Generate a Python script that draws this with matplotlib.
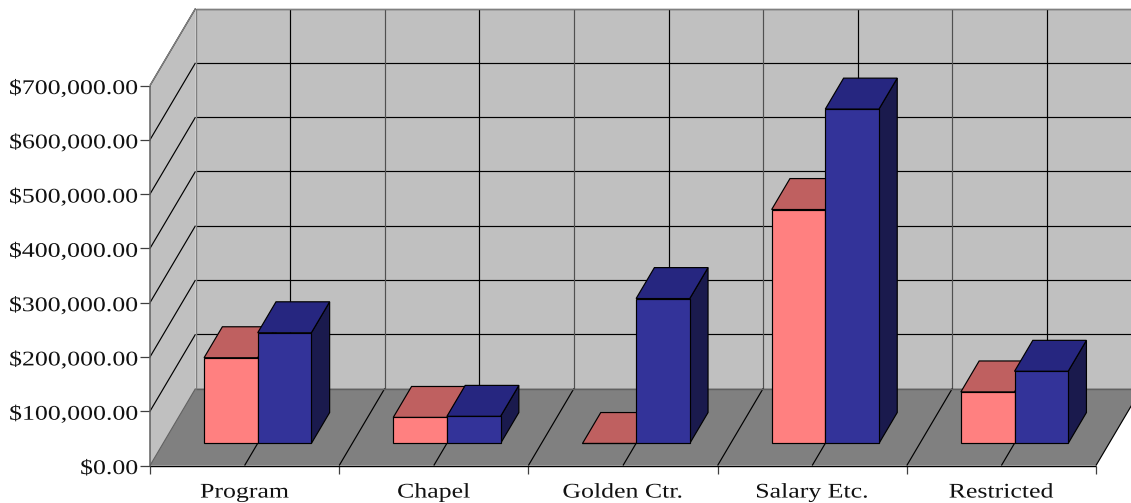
import matplotlib
matplotlib.use("Agg")
import matplotlib.pyplot as plt
from matplotlib.patches import Polygon
from matplotlib.patheffects import AbstractPathEffect
from matplotlib.transforms import Affine2D

categories = ["Program", "Chapel", "Golden Ctr.", "Salary Etc.", "Restricted"]
series_a = [158000, 48000, 0, 431000, 95000]
series_b = [204000, 50000, 267000, 616000, 133000]
value_ticks = [0, 100000, 200000, 300000, 400000, 500000, 600000, 700000]
value_labels = ["$0.00", "$100,000.00", "$200,000.00", "$300,000.00",
                "$400,000.00", "$500,000.00", "$600,000.00", "$700,000.00"]

# oblique projection of the depth axis, in data units
DX = 0.2405
DY = 141800
Y_MAX = 700000
N = len(categories)
GAP = 0.217
BAR_W = 0.2835
D_FRONT = 0.286
D_BACK = 0.688


def P(x, v, d=0.0):
    return (x + d * DX, v + d * DY)


class StretchX(AbstractPathEffect):
    """Widen the glyphs about the anchor of the text (reference text is stretched)."""
    def __init__(self, text, sx, shift_y=0.0):
        super().__init__()
        self.text, self.sx, self.shift_y = text, sx, shift_y

    def draw_path(self, renderer, gc, tpath, affine, rgbFace=None):
        ax_, _ = self.text.get_transform().transform(self.text.get_position())
        stretched = affine + Affine2D().translate(-ax_, 0).scale(self.sx, 1).translate(ax_, self.shift_y)
        renderer.draw_path(gc, tpath, stretched, rgbFace)


fig = plt.figure(figsize=(11.31, 5.03), dpi=100)
fig.patch.set_facecolor("white")
W, H = 1131.0, 503.0
ax = fig.add_axes([150 / W, 1 - 465.5 / H, 946 / W, 380 / H])
ax.set_xlim(0, N)
ax.set_ylim(0, Y_MAX)
for s in ax.spines.values():
    s.set_visible(False)
ax.patch.set_visible(False)

LW = 0.85


def poly(pts, fc, ec="none", lw=LW, z=1):
    ax.add_patch(Polygon(pts, closed=True, facecolor=fc, edgecolor=ec, linewidth=lw,
                         zorder=z, clip_on=False, joinstyle="miter"))


def seg(a, b, c="black", lw=LW, z=2):
    ax.plot([a[0], b[0]], [a[1], b[1]], color=c, lw=lw, zorder=z, clip_on=False,
            solid_capstyle="butt")


# walls and floor
poly([P(0, 0), P(0, 0, 1), P(0, Y_MAX, 1), P(0, Y_MAX)], "#C0C0C0")
poly([P(0, 0, 1), P(N, 0, 1), P(N, Y_MAX, 1), P(0, Y_MAX, 1)], "#C0C0C0")
poly([P(0, 0), P(N, 0), P(N, 0, 1), P(0, 0, 1)], "#808080")

# gridlines
half_steps = [i * 0.5 for i in range(2 * N + 1)]
for v in value_ticks[1:]:
    seg(P(0, v), P(0, v, 1))
    seg(P(0, v, 1), P(N, v, 1))
for x in half_steps[1:]:
    col = "#505050" if float(x).is_integer() else "black"
    seg(P(x, 0, 1), P(x, Y_MAX, 1), c=col)
    seg(P(x, 0), P(x, 0, 1))

# frame of the walls
seg(P(0, 0), P(0, Y_MAX), c="#606060", lw=1.1, z=3)
seg(P(0, Y_MAX), P(0, Y_MAX, 1), c="#808080", lw=1.0, z=3)
seg(P(0, Y_MAX, 1), P(N, Y_MAX, 1), c="#808080", lw=1.0, z=3)
seg(P(0, 0, 1), P(0, Y_MAX, 1), c="#808080", lw=1.0, z=3)
seg(P(0, 0, 1), P(N, 0, 1), c="#606060", lw=1.0, z=3)
seg(P(0, 0), P(N, 0), c="black", lw=1.0, z=3)
seg(P(0, 0), P(0, 0, 1), c="#606060", lw=0.8, z=3)


def bar(x, v, front, top, side, z):
    x2 = x + BAR_W
    poly([P(x2, 0, D_FRONT), P(x2, 0, D_BACK), P(x2, v, D_BACK), P(x2, v, D_FRONT)],
         side, "black", z=z)
    poly([P(x, v, D_FRONT), P(x2, v, D_FRONT), P(x2, v, D_BACK), P(x, v, D_BACK)],
         top, "black", z=z)
    poly([P(x, 0, D_FRONT), P(x2, 0, D_FRONT), P(x2, v, D_FRONT), P(x, v, D_FRONT)],
         front, "black", z=z)


for i in range(N):
    x = i + GAP
    bar(x, series_a[i], "#FF8080", "#BF6060", "#804040", 10 + 2 * i)
    bar(x + BAR_W, series_b[i], "#333399", "#262680", "#1A1A4D", 11 + 2 * i)

# axes: ticks and labels
FONT = "Liberation Serif"
ax.set_yticks(value_ticks)
ax.set_yticklabels(value_labels, fontfamily=FONT, fontsize=15, color="#111111")
ax.tick_params(axis="y", length=7, width=0.9, color="#404040", pad=1.5)
ax.set_xticks([i + 0.5 for i in range(N)])
ax.set_xticklabels(categories, fontfamily=FONT, fontsize=15, color="#111111")
ax.set_xticks(list(range(N + 1)), minor=True)
ax.tick_params(axis="x", which="major", length=0, pad=13)
ax.tick_params(axis="x", which="minor", length=6, width=0.9, color="#404040")
for lab in ax.get_yticklabels():
    lab.set_path_effects([StretchX(lab, 1.24, shift_y=-1.5)])
for lab in ax.get_xticklabels():
    lab.set_path_effects([StretchX(lab, 1.24)])

fig.savefig("out.png", dpi=100, facecolor="white")
